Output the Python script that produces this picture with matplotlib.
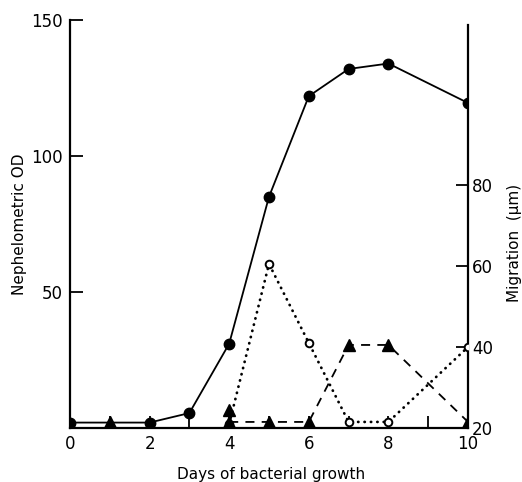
import matplotlib
matplotlib.use("Agg")
import matplotlib.pyplot as plt
import numpy as np

# Nephelometric OD (left axis), filled circles, solid line
od_days = [0, 2, 3, 4, 5, 6, 7, 8, 10]
od_vals = [2, 2, 5.5, 31, 85, 122, 132, 134, 119.5]

# Migration (right axis), open circles, dotted line
oc_days = [4, 5, 6, 7, 8, 10]
oc_vals = [21, 60.5, 41, 21.5, 21.5, 40]

# Migration (right axis), filled triangles, dashed line
tri_days = [4, 5, 6, 7, 8, 10]
tri_vals = [21.5, 21.5, 21.5, 40.5, 40.5, 21.5]
# isolated triangles (not joined)
tri_extra_days = [1, 4]
tri_extra_vals = [21.5, 24.5]

x_ticks = [0, 2, 4, 6, 8, 10]
left_ticks = [50, 100, 150]
right_ticks = [20, 40, 60, 80]

fig = plt.figure(figsize=(5.22, 4.82), dpi=100)
ax = fig.add_axes([0.134, 0.112, 0.7626, 0.8465])
ax2 = ax.twinx()

ax.plot(od_days, od_vals, color="black", lw=1.3, marker="o", ms=7.5,
        mfc="black", mec="black", zorder=3)
ax2.plot(oc_days, oc_vals, color="black", lw=2.0, linestyle=(0, (0.1, 2.2)),
         dash_capstyle="round", marker="o", ms=5.5, mfc="white",
         mec="black", mew=1.4, zorder=3)
ax2.plot(tri_days, tri_vals, color="black", lw=1.3, linestyle=(0, (5, 4)),
         marker="^", ms=9, mfc="black", mec="black", zorder=4)
ax2.plot(tri_extra_days, tri_extra_vals, linestyle="none", marker="^", ms=8.5,
         mfc="black", mec="black", zorder=4)

ax.set_xlim(0, 10)
ax.set_ylim(0, 150)
ax2.set_ylim(20, 120.7)

ax.spines["top"].set_visible(False)
ax2.spines["top"].set_visible(False)
ax2.spines["left"].set_visible(False)
ax2.spines["bottom"].set_visible(False)
ax.spines["right"].set_visible(False)
for sp in [ax.spines["left"], ax.spines["bottom"], ax2.spines["right"]]:
    sp.set_linewidth(1.6)
ax2.spines["right"].set_bounds(20, 119.5)

ax.set_xticks(range(0, 11))
ax.set_xticklabels([str(i) if i in x_ticks else "" for i in range(0, 11)])
ax.set_yticks(left_ticks)
ax2.set_yticks(right_ticks)

ax.tick_params(axis="x", direction="in", length=9, width=1.3, pad=5, labelsize=12)
ax.tick_params(axis="y", direction="in", length=9, width=1.3, pad=5, labelsize=12)
ax2.tick_params(axis="y", direction="in", length=9, width=1.3, pad=3, labelsize=12)

ax.set_xlabel("Days of bacterial growth", fontsize=11)
ax.xaxis.set_label_coords(0.505, -0.095)
ax.set_ylabel("Nephelometric OD", fontsize=11)
ax.yaxis.set_label_coords(-0.108, 0.5)
ax2.set_ylabel("Migration  (\u03bcm)", fontsize=11, rotation=90)
ax2.yaxis.set_label_coords(1.097, 0.453)

fig.savefig("out.png", dpi=100)
